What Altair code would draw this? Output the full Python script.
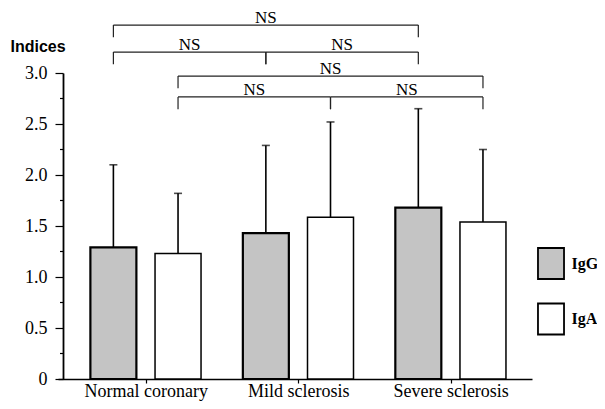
import altair as alt
import pandas as pd

# ---- data ----
categories = ["Normal coronary", "Mild sclerosis", "Severe sclerosis"]
series_names = ["IgG", "IgA"]
igg_mean = [1.29, 1.43, 1.68]
igg_sd = [0.81, 0.86, 0.97]
iga_mean = [1.23, 1.585, 1.54]
iga_sd = [0.59, 0.935, 0.71]

# significance brackets (series compared, from group, to group, label, height)
comp_series = ["IgG", "IgG", "IgG", "IgA", "IgA", "IgA"]
comp_from = [0, 0, 1, 0, 0, 1]
comp_to = [2, 1, 2, 2, 1, 2]
comp_label = ["NS", "NS", "NS", "NS", "NS", "NS"]
comp_level = [3.47, 3.205, 3.205, 2.97, 2.765, 2.765]

y_major = [0, 0.5, 1.0, 1.5, 2.0, 2.5, 3.0]
y_minor = [0.25, 0.75, 1.25, 1.75, 2.25, 2.75]

# ---- tables ----
bars_df = pd.DataFrame({
    "idx": list(range(len(categories))) * 2,
    "series": [series_names[0]] * 3 + [series_names[1]] * 3,
    "mean": igg_mean + iga_mean,
    "sd": igg_sd + iga_sd,
})
comp_df = pd.DataFrame({
    "series": comp_series, "from": comp_from, "to": comp_to,
    "label": comp_label, "level": comp_level,
})
minor_df = pd.DataFrame({"v": y_minor})

OFF = 0.212
DROP = 0.12
SERIF = "Liberation Serif"
off_expr = f"(datum.series == 'IgG' ? {-OFF} : {OFF})"

xscale = alt.Scale(domain=[-0.5425, 2.5008], nice=False, zero=False)
yscale = alt.Scale(domain=[0, 3], nice=False)

cat_expr = "[" + ",".join(f"'{c}'" for c in categories) + "][datum.value]"

x_axis = alt.Axis(
    values=[0, 1, 2], labelExpr=cat_expr, title=None, grid=False,
    tickSize=4, tickColor="black", tickWidth=1.2,
    domainColor="black", domainWidth=1.5,
    labelPadding=13, labelBaseline="alphabetic", labelAngle=0, labelFlush=False,
    labelFont=SERIF, labelFontSize=18, labelColor="black",
)
y_axis = alt.Axis(
    values=y_major, grid=False, offset=-5,
    labelExpr="datum.value == 0 ? '0' : format(datum.value, '.1f')",
    tickSize=8, tickColor="black", tickWidth=1.2,
    domainColor="black", domainWidth=1.8,
    labelPadding=8, labelFont=SERIF, labelFontSize=18, labelColor="black",
    title="Indices", titleAngle=0, titleAlign="left", titleBaseline="alphabetic",
    titleX=-53, titleY=-22, titleFont="Liberation Sans", titleFontSize=16,
    titleFontWeight="bold", titleColor="black",
)


def X(field):
    return alt.X(field, type="quantitative", scale=xscale, axis=x_axis)


def Y(field):
    return alt.Y(field, type="quantitative", scale=yscale, axis=y_axis)


base = alt.Chart(bars_df).transform_calculate(
    xpos=f"datum.idx + {off_expr}", top="datum.mean + datum.sd"
)

bars = base.mark_bar(size=46, stroke="black").encode(
    x=X("xpos"),
    y=Y("mean"),
    fill=alt.Fill(
        "series:N",
        scale=alt.Scale(domain=series_names, range=["#c4c4c4", "#ffffff"]),
        legend=alt.Legend(
            title=None, orient="none", legendX=476.5, legendY=174, padding=0,
            symbolType="M-0.84,-1H0.84V1H-0.84Z", symbolSize=961,
            symbolStrokeColor="black", symbolStrokeWidth=1.8,
            rowPadding=16.5, labelOffset=4,
            labelFont=SERIF, labelFontSize=16, labelFontWeight="bold",
            labelColor="black",
        ),
    ),
    strokeWidth=alt.condition("datum.series == 'IgG'", alt.value(2.2), alt.value(1.5)),
)
err = base.mark_rule(color="black", strokeWidth=1.6).encode(
    x=X("xpos"), y=Y("mean"), y2="top:Q"
)
cap = base.mark_tick(color="black", orient="horizontal", size=8, thickness=1.6).encode(
    x=X("xpos"), y=Y("top")
)

# short minor ticks on the y axis (between the labelled ticks)
minor = alt.Chart(minor_df).mark_rule(color="black", strokeWidth=1.2).encode(
    x=alt.value(2), x2=alt.value(5), y=Y("v")
)

cbase = alt.Chart(comp_df).transform_calculate(
    xf=f"datum['from'] + {off_expr}",
    xt=f"datum['to'] + {off_expr}",
)
hline = cbase.mark_rule(color="#222222", strokeWidth=1.2).encode(
    x=X("xf"), x2="xt:Q", y=Y("level")
)
drops = cbase.transform_fold(["xf", "xt"], as_=["end", "xend"]).transform_calculate(
    low=f"datum.level - {DROP}"
).mark_rule(color="#222222", strokeWidth=1.2).encode(
    x=X("xend"), y=Y("level"), y2="low:Q"
)
ns = cbase.transform_calculate(xm="(datum.xf + datum.xt) / 2").mark_text(
    font=SERIF, fontSize=17, color="black", baseline="alphabetic", dy=-2
).encode(x=X("xm"), y=Y("level"), text="label:N")

chart = alt.layer(bars, err, cap, minor, hline, drops, ns).properties(
    width=474, height=306,
    padding={"left": 50, "top": 65, "right": 65, "bottom": 22},
    autosize=alt.AutoSizeParams(type="none"),
    background="white",
).configure_view(strokeWidth=0).configure_axis(labelFont=SERIF)

chart.save("out.html", embed_options={"renderer": "svg", "actions": False})
